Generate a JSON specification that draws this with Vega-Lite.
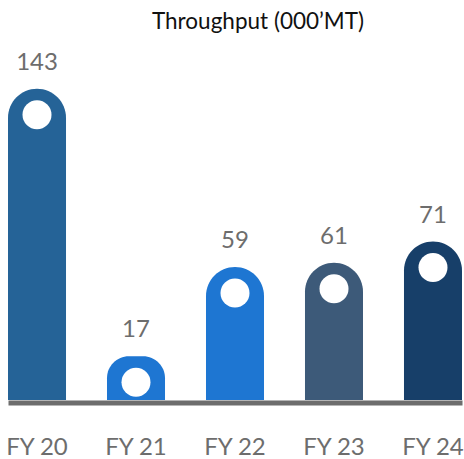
{
  "$schema": "https://vega.github.io/schema/vega-lite/v6.json",
  "width": 454,
  "height": 310,
  "autosize": {"type": "none"},
  "padding": {"left": 8, "top": 90, "right": 2, "bottom": 59},
  "background": "white",
  "title": {
    "text": "Throughput (000’MT)",
    "font": "Lato",
    "fontSize": 22.5,
    "fontWeight": "normal",
    "color": "#111111",
    "anchor": "middle",
    "frame": "group",
    "dx": 23,
    "dy": -13
  },
  "config": {"view": {"stroke": null}},
  "data": {
    "values": [
      {"year": "FY 20", "value": 143, "c": "a"},
      {"year": "FY 21", "value": 17, "c": "b"},
      {"year": "FY 22", "value": 59, "c": "c"},
      {"year": "FY 23", "value": 61, "c": "d"},
      {"year": "FY 24", "value": 71, "c": "e"}
    ]
  },
  "encoding": {
    "x": {
      "field": "year",
      "type": "nominal",
      "sort": null,
      "scale": {"paddingInner": 0.414, "paddingOuter": 0},
      "axis": {
        "title": null,
        "labelAngle": 0,
        "ticks": false,
        "tickSize": 0,
        "domainColor": "#6d6d6d",
        "domainWidth": 5,
        "offset": 2.5,
        "labelPadding": 33,
        "labelFont": "Lato",
        "labelFontSize": 24,
        "labelColor": "#6d6d6d"
      }
    },
    "y": {
      "field": "value",
      "type": "quantitative",
      "scale": {"domain": [-3.6, 142.4], "nice": false, "zero": false},
      "axis": null
    }
  },
  "layer": [
    {
      "mark": {"type": "bar", "cornerRadiusTopLeft": 29, "cornerRadiusTopRight": 29},
      "encoding": {
        "y2": {"datum": -3.6},
        "color": {
          "field": "c",
          "type": "nominal",
          "scale": {"domain": ["a", "b", "c", "d", "e"], "range": ["#256397", "#1e76d2", "#1e76d2", "#3d5a79", "#173f69"]},
          "legend": null
        }
      }
    },
    {
      "mark": {"type": "point", "shape": "circle", "filled": true, "color": "white", "opacity": 1, "size": 841, "yOffset": 26}
    },
    {
      "mark": {"type": "text", "baseline": "alphabetic", "dy": -19, "font": "Lato", "fontSize": 24, "color": "#6d6d6d"},
      "encoding": {"text": {"field": "value", "type": "quantitative"}}
    }
  ]
}
